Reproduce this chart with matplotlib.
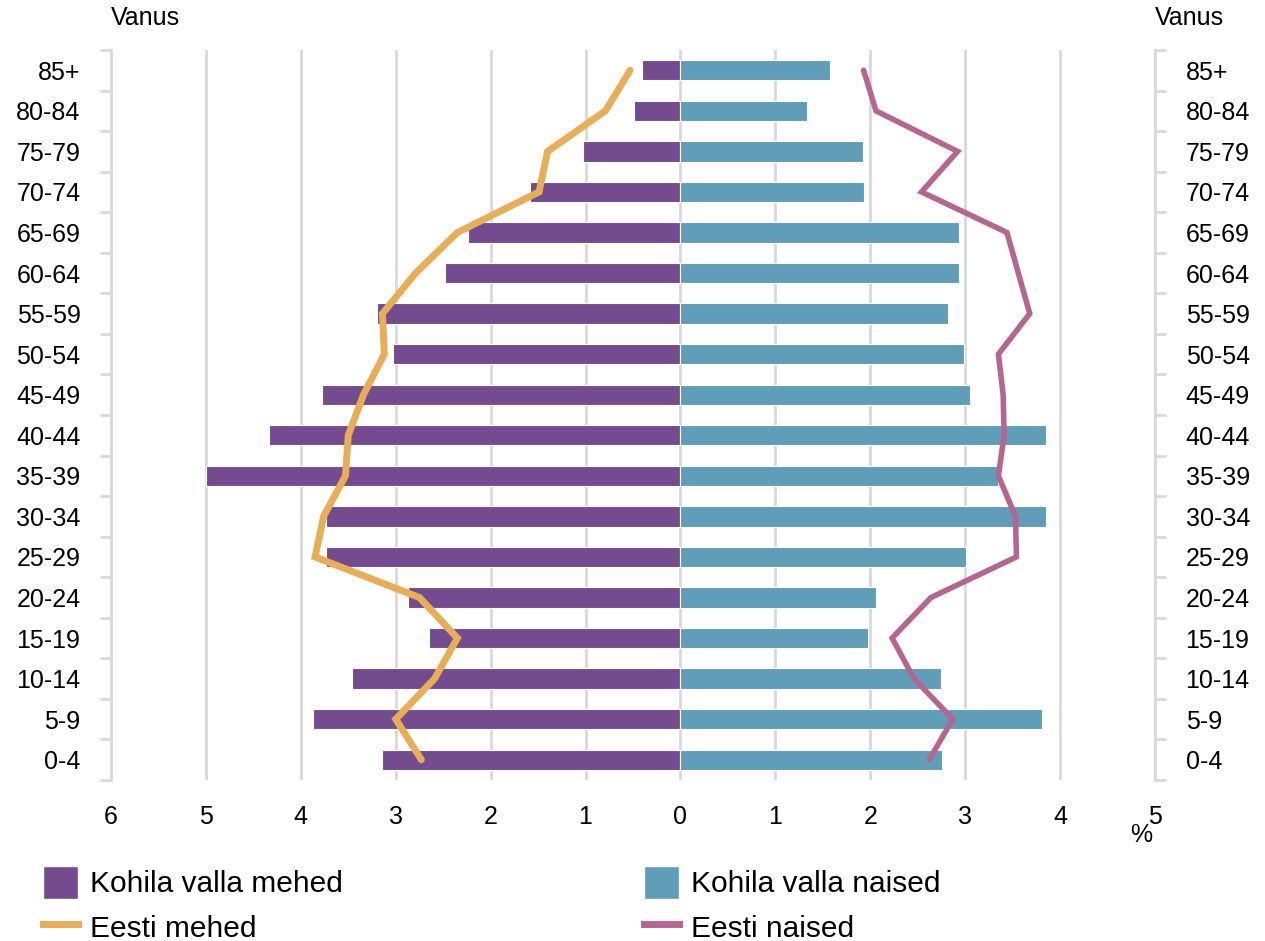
import numpy as np
import matplotlib
matplotlib.use("Agg")
import matplotlib.pyplot as plt
from matplotlib.patches import Patch
from matplotlib.lines import Line2D

plt.rcParams["font.family"] = ["Liberation Sans", "DejaVu Sans"]

# age groups from youngest to oldest
ages = ["0-4", "5-9", "10-14", "15-19", "20-24", "25-29", "30-34", "35-39",
        "40-44", "45-49", "50-54", "55-59", "60-64", "65-69", "70-74",
        "75-79", "80-84", "85+"]

# Kohila municipality, % of population
kohila_men = [3.14, 3.87, 3.46, 2.65, 2.87, 3.73, 3.73, 5.00, 4.34, 3.78,
              3.03, 3.20, 2.48, 2.24, 1.58, 1.03, 0.49, 0.40]
kohila_women = [2.76, 3.81, 2.74, 1.98, 2.06, 3.01, 3.85, 3.35, 3.85, 3.05,
                2.99, 2.82, 2.94, 2.94, 1.93, 1.92, 1.33, 1.58]

# Estonia, % of population
eesti_men = [2.73, 3.00, 2.59, 2.35, 2.75, 3.85, 3.76, 3.53, 3.50, 3.34,
             3.12, 3.14, 2.79, 2.35, 1.49, 1.40, 0.79, 0.53]
eesti_women = [2.62, 2.87, 2.46, 2.23, 2.64, 3.54, 3.53, 3.35, 3.41, 3.40,
               3.35, 3.68, 3.56, 3.44, 2.54, 2.92, 2.06, 1.93]

x_ticks = [-6, -5, -4, -3, -2, -1, 0, 1, 2, 3, 4, 5]

purple = "#744B8F"
blue = "#5F9DB8"
orange = "#E8AE57"
pink = "#B5658F"
grid_c = "#D9D9D9"
fs = 18

W, H = 1265, 941
fig = plt.figure(figsize=(W / 100, H / 100), dpi=100)
ax = fig.add_axes([111 / W, 1 - 780 / H, (1155 - 111) / W, (780 - 50) / H])

y = np.arange(len(ages))
men = -np.array(kohila_men)
ax.barh(y, men, height=0.5, color=purple, edgecolor="white", linewidth=0.8, zorder=2)
ax.barh(y, kohila_women, height=0.5, color=blue, edgecolor="white", linewidth=0.8, zorder=2)
ax.plot(-np.array(eesti_men), y, color=orange, lw=5, solid_capstyle="round",
        solid_joinstyle="miter", zorder=3)
ax.plot(eesti_women, y, color=pink, lw=4, solid_capstyle="round",
        solid_joinstyle="miter", zorder=3)

ax.set_xlim(-6, 5)
ax.set_ylim(-0.5, len(ages) - 0.5)
ax.set_xticks(x_ticks)
ax.set_xticklabels([str(abs(v)) for v in x_ticks], fontsize=fs)
ax.tick_params(axis="x", length=0, pad=18)
ax.grid(axis="x", color=grid_c, lw=2)
ax.set_axisbelow(True)

for s in ["top", "bottom"]:
    ax.spines[s].set_visible(False)
for s in ["left", "right"]:
    ax.spines[s].set_color(grid_c)
    ax.spines[s].set_linewidth(2)

ax.set_yticks(y)
ax.set_yticklabels(ages, fontsize=fs)
ax.set_yticks(np.arange(-0.5, len(ages)), minor=True)
ax.tick_params(axis="y", which="major", length=0, pad=22, labelright=True)
ax.tick_params(axis="y", which="minor", length=8, width=2, color=grid_c,
               left=True, right=True)

fig.text(111 / W, 1 - 18 / H, "Vanus", fontsize=fs, ha="left", va="center")
fig.text(1155 / W, 1 - 18 / H, "Vanus", fontsize=fs, ha="left", va="center")
fig.text(1141 / W, 1 - 835 / H, "%", fontsize=fs, ha="center", va="center")

lfs = 21.5
handles = [Patch(facecolor=purple, edgecolor="white"),
           Line2D([], [], color=orange, lw=5),
           Patch(facecolor=blue, edgecolor="white"),
           Line2D([], [], color=pink, lw=5)]
labels = ["Kohila valla mehed", "Eesti mehed", "Kohila valla naised", "Eesti naised"]
fig.legend(handles, labels, ncol=2, loc="upper left",
           bbox_to_anchor=(43 / W, 1 - 866 / H), frameon=False, fontsize=lfs,
           handlelength=1.17, handleheight=1.32, handletextpad=0.4,
           labelspacing=0.38, columnspacing=10.1, borderpad=0, borderaxespad=0)

fig.savefig("out.png", dpi=100)
